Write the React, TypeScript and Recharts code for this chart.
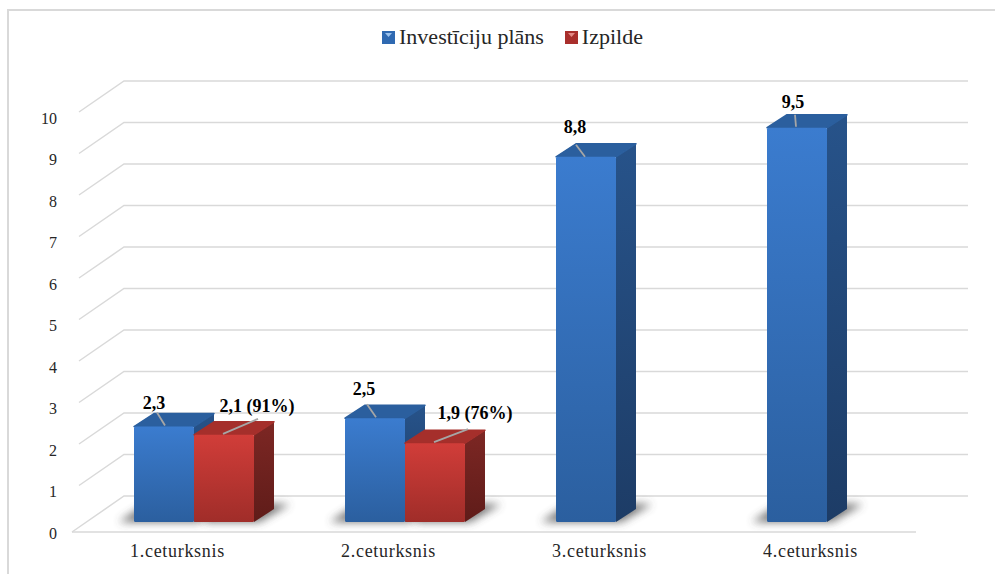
import { BarChart, Bar, XAxis, YAxis, CartesianGrid, LabelList, Legend } from "recharts";

const quarters = ["1.ceturksnis", "2.ceturksnis", "3.ceturksnis", "4.ceturksnis"];
const planValues = [2.3, 2.5, 8.8, 9.5];
const doneValues = [2.1, 1.9, null, null];
const planLabels = ["2,3", "2,5", "8,8", "9,5"];
const doneLabels = ["2,1 (91%)", "1,9 (76%)", "", ""];
const yTicks = [0, 1, 2, 3, 4, 5, 6, 7, 8, 9, 10];

const data = quarters.map((q, i) => ({
  quarter: q,
  plan: planValues[i],
  done: doneValues[i],
}));

const FONT = "'Liberation Serif', serif";
const GRID = "#d9d9d9";

// bars stand a little behind the front edge of the floor, the wall further back
const BAR_DX = 16;
const BAR_DY = -10;
const WALL_DX = 52;
const WALL_DY = -36;
const DEPTH_X = 20;
const DEPTH_Y = -13;

const BlueBar = (props: any) => <Box3D {...props} tone="blue" />;
const RedBar = (props: any) => <Box3D {...props} tone="red" />;

const Box3D = ({ x, y, width, height, tone }: any) => {
  if (height == null || height <= 0) return null;
  const l = x + BAR_DX;
  const r = l + width;
  const t = y + BAR_DY;
  const b = t + height;
  const top = tone === "blue" ? "#2b5f9e" : "#a52f2b";
  // the red shadow must not fall on the blue bar next to it
  const shadowLeft = tone === "blue" ? l - 15 : l + 12;
  return (
    <g>
      <polygon
        points={`${shadowLeft},${b} ${r + 5},${b} ${r + 36},${b - 18} ${l + 12},${b - 18}`}
        fill="#444"
        opacity={0.75}
        filter="url(#floorShadow)"
      />
      <polygon
        points={`${r},${t} ${r + DEPTH_X},${t + DEPTH_Y} ${r + DEPTH_X},${b + DEPTH_Y} ${r},${b}`}
        fill={`url(#${tone}Side)`}
      />
      <polygon
        points={`${l},${t} ${l + DEPTH_X},${t + DEPTH_Y} ${r + DEPTH_X},${t + DEPTH_Y} ${r},${t}`}
        fill={top}
        stroke={top}
        strokeWidth={1.5}
        strokeLinejoin="round"
      />
      <rect x={l} y={t} width={width} height={height} rx={1.5} fill={`url(#${tone}Front)`} />
    </g>
  );
};

// leader line and text of a value label, measured from the front top of the bar
const valueLabel = (labels: string[], leader: number[][]) => (props: any) => {
  const { x, y, width, index } = props;
  const text = labels[index];
  if (!text) return null;
  const [x1, y1, x2, y2, tx, ty] = leader[index];
  const l = x + BAR_DX;
  const t = y + BAR_DY;
  const cx = l + width / 2;
  return (
    <g>
      <line x1={cx + x1} y1={t + y1} x2={cx + x2} y2={t + y2} stroke="#a6a6a6" strokeWidth={1.8} />
      <text
        x={cx + tx}
        y={t + ty}
        textAnchor="middle"
        fontFamily={FONT}
        fontWeight="bold"
        fontSize={18}
        fill="#000"
      >
        {text}
      </text>
    </g>
  );
};

const planLeader = [
  [1, -1, -7, -14, -10, -18],
  [1, -1, -8, -14, -11, -23],
  [-1, 0, -10, -12, -11, -24],
  [-1, -1, -2, -13, -4, -20],
];
const doneLeader = [
  [-1, -1, 34, -16, 33, -23],
  [-1, -1, 33, -14, 40, -24],
  [0, 0, 0, 0, 0, 0],
  [0, 0, 0, 0, 0, 0],
];

const yTick = ({ x, y, payload }: any) => (
  <text x={x - 7} y={y + 6.5} textAnchor="end" fontFamily={FONT} fontSize={16} fill="#262626">
    {payload.value}
  </text>
);

// floor edge and wall line for every value
const gridLine = ({ x1, x2, y1, index }: any) => (
  <polyline
    key={index}
    points={`${y1 > 500 ? x1 : x1 + 7},${y1 > 500 ? y1 : y1 - 5} ${x1 + WALL_DX},${y1 + WALL_DY} ${x2 + WALL_DX},${y1 + WALL_DY}`}
    fill="none"
    stroke={GRID}
    strokeWidth={1.5}
  />
);

const LegendBox = () => (
  <div
    style={{
      display: "flex",
      justifyContent: "center",
      alignItems: "center",
      gap: 21,
      fontFamily: FONT,
      fontSize: 22,
      color: "#262626",
    }}
  >
    {[
      ["Investīciju plāns", "#2f69b1", "#9cc3ee"],
      ["Izpilde", "#a92f2c", "#e58a86"],
    ].map(([name, dark, light]) => (
      <span key={name} style={{ display: "inline-flex", alignItems: "center", gap: 4 }}>
        <svg width={13} height={13}>
          <rect width={13} height={13} fill={dark} />
          <polygon points="3,2 10,2 6.5,6" fill={light} />
        </svg>
        {name}
      </span>
    ))}
  </div>
);

export default function App() {
  return (
    <div style={{ position: "absolute", left: 0, top: 0, width: 995, height: 574, background: "#fff" }}>
      <div style={{ position: "absolute", left: 7, top: 9, width: 988, height: 565, borderLeft: "2px solid #d9d9d9", borderTop: "2px solid #d9d9d9" }} />
      <BarChart
        width={995}
        height={574}
        data={data}
        barGap={0}
        barCategoryGap={45.5}
        margin={{ top: 91, right: 79, bottom: -1, left: 32 }}
        style={{ position: "absolute", left: 0, top: 0 }}
      >
        <defs>
          <linearGradient id="blueFront" x1="0" y1="0" x2="0" y2="1">
            <stop offset="0" stopColor="#3b7ccf" />
            <stop offset="1" stopColor="#2b5f9f" />
          </linearGradient>
          <linearGradient id="blueSide" x1="0" y1="0" x2="0" y2="1">
            <stop offset="0" stopColor="#27538a" />
            <stop offset="1" stopColor="#1d3c66" />
          </linearGradient>
          <linearGradient id="redFront" x1="0" y1="0" x2="0" y2="1">
            <stop offset="0" stopColor="#d13d39" />
            <stop offset="1" stopColor="#a02d29" />
          </linearGradient>
          <linearGradient id="redSide" x1="0" y1="0" x2="0" y2="1">
            <stop offset="0" stopColor="#7d2724" />
            <stop offset="1" stopColor="#5f1c19" />
          </linearGradient>
          <filter id="floorShadow" x="-30%" y="-60%" width="160%" height="220%">
            <feGaussianBlur stdDeviation="4" />
          </filter>
        </defs>
        <CartesianGrid vertical={false} horizontal={gridLine} />
        <XAxis
          dataKey="quarter"
          interval={0}
          tickLine={false}
          axisLine={{ stroke: GRID, strokeWidth: 1.5 }}
          tick={{ fontFamily: FONT, fontSize: 18, fill: "#262626", letterSpacing: 0.7 }}
          tickMargin={6}
          height={43}
        />
        <YAxis
          domain={[0, 10]}
          ticks={yTicks}
          interval={0}
          width={40}
          orientation="left"
          axisLine={false}
          tickLine={false}
          tick={yTick}
        />
        <Legend verticalAlign="top" content={LegendBox} wrapperStyle={{ top: 24, left: 15, width: 995 }} />
        <Bar dataKey="plan" name="Investīciju plāns" barSize={60} shape={BlueBar} isAnimationActive={false}>
          <LabelList dataKey="plan" content={valueLabel(planLabels, planLeader)} />
        </Bar>
        <Bar dataKey="done" name="Izpilde" barSize={60} shape={RedBar} isAnimationActive={false}>
          <LabelList dataKey="done" content={valueLabel(doneLabels, doneLeader)} />
        </Bar>
      </BarChart>
    </div>
  );
}
